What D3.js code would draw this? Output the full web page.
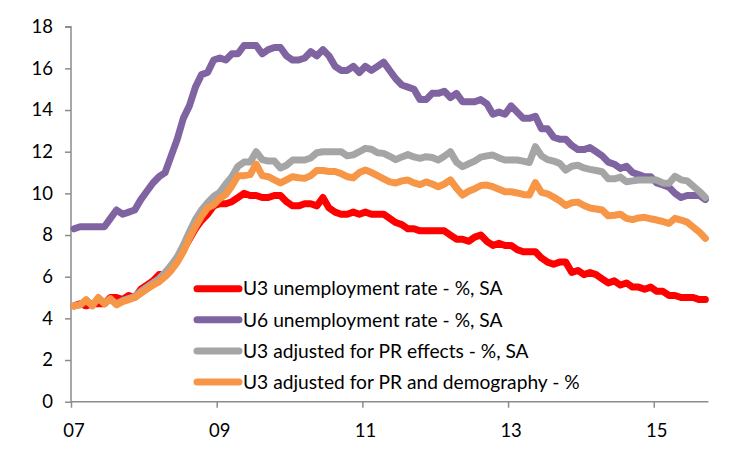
<!DOCTYPE html>
<html><head><meta charset="utf-8">
<script src="https://cdn.jsdelivr.net/npm/d3@7"></script>
<style>
body{margin:0;background:#fff}
svg{display:block}
text{font-family:Lato,"Open Sans",sans-serif;fill:#000}
</style>
</head><body>
<svg id="chart" width="750" height="452"></svg>
<script>
// ---- data ----
const firstMonth = new Date(2007, 5, 1);   // Jun 2007
const endMonth = new Date(2016, 2, 1);     // exclusive (last = Feb 2016)
const tickLabels = ["07", "09", "11", "13", "15"];
const yTicks = [0, 2, 4, 6, 8, 10, 12, 14, 16, 18];
const seriesNames = [
  "U3 unemployment rate - %, SA",
  "U6 unemployment rate - %, SA",
  "U3 adjusted for PR effects - %, SA",
  "U3 adjusted for PR and demography - %"
];
const u3 = [4.6,4.7,4.6,4.7,4.7,4.7,5.0,
  5.0,4.9,5.1,5.0,5.4,5.6,5.8,6.1,6.1,6.5,6.8,7.3,
  7.8,8.3,8.7,9.0,9.4,9.5,9.5,9.6,9.8,10.0,9.9,9.9,
  9.8,9.8,9.9,9.9,9.6,9.4,9.4,9.5,9.5,9.4,9.8,9.3,
  9.1,9.0,9.0,9.1,9.0,9.1,9.0,9.0,9.0,8.8,8.6,8.5,
  8.3,8.3,8.2,8.2,8.2,8.2,8.2,8.0,7.8,7.8,7.7,7.9,
  8.0,7.7,7.5,7.6,7.5,7.5,7.3,7.2,7.2,7.2,6.9,6.7,
  6.6,6.7,6.7,6.2,6.3,6.1,6.2,6.1,5.9,5.7,5.8,5.6,
  5.7,5.5,5.5,5.4,5.5,5.3,5.3,5.1,5.1,5.0,5.0,5.0,
  4.9,4.9];
const u6 = [8.3,8.4,8.4,8.4,8.4,8.4,8.8,
  9.2,9.0,9.1,9.2,9.7,10.1,10.5,10.8,11.0,11.8,12.6,13.6,
  14.2,15.1,15.7,15.8,16.4,16.5,16.4,16.7,16.7,17.1,17.1,17.1,
  16.7,16.9,17.0,17.0,16.6,16.4,16.4,16.5,16.8,16.6,16.9,16.6,
  16.1,15.9,15.9,16.1,15.8,16.1,15.9,16.1,16.3,15.9,15.5,15.2,
  15.1,15.0,14.5,14.5,14.8,14.8,14.9,14.6,14.8,14.4,14.4,14.4,
  14.5,14.3,13.8,13.9,13.8,14.2,13.9,13.6,13.6,13.7,13.1,13.1,
  12.7,12.6,12.6,12.3,12.1,12.1,12.2,12.0,11.8,11.5,11.4,11.2,
  11.3,11.0,10.9,10.8,10.8,10.5,10.4,10.3,10.0,9.8,9.9,9.9,
  9.9,9.7];
const u3AdjPR = [4.6,4.65,4.85,4.65,4.95,4.75,4.9,
  4.7,4.85,4.95,5.05,5.3,5.5,5.7,5.9,6.2,6.55,6.95,7.5,
  8.15,8.75,9.2,9.55,9.85,10.05,10.45,10.8,11.3,11.5,11.5,12.0,
  11.62,11.55,11.55,11.22,11.35,11.6,11.6,11.6,11.7,11.95,12.0,12.0,
  12.0,12.0,11.8,11.85,12.0,12.16,12.12,11.95,11.92,11.78,11.62,11.75,
  11.86,11.75,11.68,11.76,11.72,11.6,11.78,12.0,11.5,11.28,11.42,11.55,
  11.74,11.8,11.84,11.7,11.6,11.6,11.6,11.55,11.48,12.24,11.8,11.62,
  11.55,11.44,11.12,11.3,11.35,11.22,11.15,11.1,11.04,10.7,10.7,10.78,
  10.56,10.6,10.64,10.64,10.64,10.64,10.5,10.48,10.82,10.65,10.6,10.35,
  10.1,9.8];
const u3AdjPRDemo = [4.6,4.65,4.9,4.6,5.0,4.7,4.95,
  4.65,4.8,4.9,5.0,5.2,5.4,5.6,5.75,6.0,6.3,6.7,7.2,
  7.85,8.4,8.9,9.3,9.45,9.75,9.95,10.35,10.85,10.85,10.9,11.4,
  10.85,10.8,10.65,10.5,10.65,10.8,10.75,10.72,10.85,11.1,11.1,11.05,
  11.05,10.95,10.8,10.75,11.0,11.12,11.0,10.85,10.7,10.55,10.5,10.6,
  10.64,10.5,10.42,10.55,10.45,10.32,10.45,10.65,10.25,9.92,10.1,10.22,
  10.38,10.4,10.32,10.2,10.08,10.08,10.02,9.95,9.92,10.52,10.05,9.98,
  9.82,9.65,9.42,9.55,9.58,9.42,9.3,9.25,9.2,8.92,8.95,9.0,
  8.8,8.74,8.82,8.85,8.78,8.72,8.65,8.56,8.8,8.72,8.62,8.38,
  8.15,7.84];

// ---- styles ----
const seriesColors = ["#FF0000", "#8064A2", "#A5A5A5", "#F79646"];
const axisColor = "#8C8C8C";

const months = d3.timeMonth.range(firstMonth, endMonth);
const allSeries = [u3, u6, u3AdjPR, u3AdjPRDemo];

const svg = d3.select("#chart");
svg.append("rect").attr("width", 750).attr("height", 452).attr("fill", "#fff");

const x = d3.scaleLinear().domain([0, months.length]).range([71, 708.4]);
const y = d3.scaleLinear().domain([0, 18]).range([401.7, 26.7]);

// y axis
const yAxis = svg.append("g").attr("transform", "translate(71,0)")
  .call(d3.axisLeft(y).tickValues(yTicks).tickSize(6).tickPadding(12).tickFormat(d3.format("d")));
yAxis.select(".domain").attr("stroke", axisColor).attr("stroke-width", 1.5).attr("d", `M-6,${y(18)}H0V${y(0)}`);
yAxis.selectAll(".tick line").attr("stroke", axisColor).attr("stroke-width", 1.5);
yAxis.selectAll(".tick text").attr("font-size", 18.5).attr("font-family", "Lato").attr("fill", "#000");

// x axis
const tickIdx = tickLabels.map((_, k) => k * 24);
const xAxis = svg.append("g").attr("transform", `translate(0,${y(0)})`)
  .call(d3.axisBottom(x).tickValues(tickIdx).tickSize(6).tickFormat(""));
xAxis.select(".domain").attr("stroke", axisColor).attr("stroke-width", 1.5).attr("d", `M${x(0)},0H${x(months.length)}`);
xAxis.selectAll(".tick line").attr("stroke", axisColor).attr("stroke-width", 1.5);
svg.append("g").selectAll("text").data(tickLabels).join("text")
  .attr("x", (d, k) => x(tickIdx[k] + 0.5))
  .attr("y", 431).attr("dy", "0.35em")
  .attr("text-anchor", "middle").attr("font-size", 18.5)
  .text(d => d);

// lines
const line = d3.line().x((d, i) => x(i + 0.5)).y(d => y(d));
svg.append("g").selectAll("path").data(allSeries).join("path")
  .attr("d", line)
  .attr("fill", "none")
  .attr("stroke", (d, i) => seriesColors[i])
  .attr("stroke-width", 7)
  .attr("stroke-linejoin", "round")
  .attr("stroke-linecap", "round");

// legend
const lg = svg.append("g");
const rows = lg.selectAll("g").data(seriesNames).join("g")
  .attr("transform", (d, i) => `translate(0,${288.7 + i * 31.1})`);
rows.append("line").attr("x1", 197).attr("x2", 239).attr("y1", 0).attr("y2", 0)
  .attr("stroke", (d, i) => seriesColors[i]).attr("stroke-width", 7).attr("stroke-linecap", "round");
rows.append("text").attr("x", 243).attr("y", 0).attr("dy", "0.35em")
  .attr("font-size", 19.2).text(d => d);
</script>
</body></html>
